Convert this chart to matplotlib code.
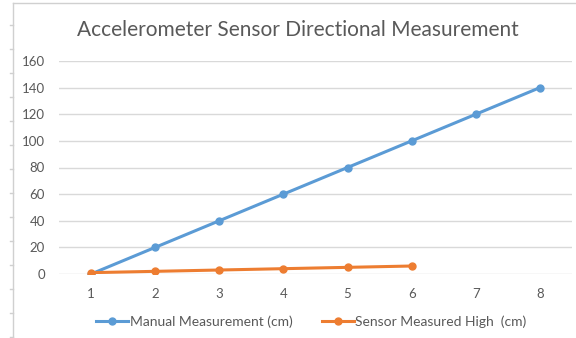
import matplotlib.pyplot as plt
from matplotlib.lines import Line2D

# Data
trials = [1, 2, 3, 4, 5, 6, 7, 8]
manual_cm = [0, 20, 40, 60, 80, 100, 120, 140]
sensor_trials = [1, 2, 3, 4, 5, 6]
sensor_cm = [1, 2, 3, 4, 5, 6]
y_ticks = [0, 20, 40, 60, 80, 100, 120, 140, 160]

plt.rcParams['font.family'] = ['Lato', 'DejaVu Sans']

blue = "#5B9BD5"
orange = "#ED7D31"
text_gray = "#595959"
grid_gray = "#D9D9D9"

fig = plt.figure(figsize=(5.76, 3.38), dpi=100)
ax = fig.add_axes([59/576, 64/338, 513/576, 213/338])

ax.plot(trials, manual_cm, color=blue, linewidth=2.2, marker="o", markersize=5,
        label="Manual Measurement (cm)", zorder=3)
ax.plot(sensor_trials, sensor_cm, color=orange, linewidth=2.2, marker="o", markersize=5,
        label="Sensor Measured High  (cm)", zorder=4)

ax.set_xlim(0.5, 8.5)
ax.set_ylim(0, 160)
ax.set_xticks(trials)
ax.set_yticks(y_ticks)
ax.tick_params(length=0, labelsize=9.5, labelcolor=text_gray)
ax.tick_params(axis="y", pad=10)
ax.tick_params(axis="x", pad=10)
ax.grid(axis="y", color=grid_gray, linewidth=1)
ax.set_axisbelow(True)
for s in ax.spines.values():
    s.set_visible(False)

fig.text(0.518, 0.91, "Accelerometer Sensor Directional Measurement",
         ha="center", va="center", fontsize=15, color=text_gray)

ax.legend(loc="upper center", bbox_to_anchor=(0.492, -0.135), ncol=2, frameon=False,
          fontsize=10, labelcolor=text_gray, handlelength=2.3, handletextpad=0.1,
          columnspacing=2.1)

# sheet border on the top and left edges
fig.add_artist(Line2D([13/576, 1], [1 - 3/338, 1 - 3/338], color="#D0D0D0", linewidth=1))
fig.add_artist(Line2D([13/576, 13/576], [0, 1 - 3/338], color="#D0D0D0", linewidth=1))
for y in range(25, 338, 24):
    yf = 1 - y/338
    fig.add_artist(Line2D([10/576, 13/576], [yf, yf], color="#D0D0D0", linewidth=1))

plt.savefig("out.png", dpi=100)
